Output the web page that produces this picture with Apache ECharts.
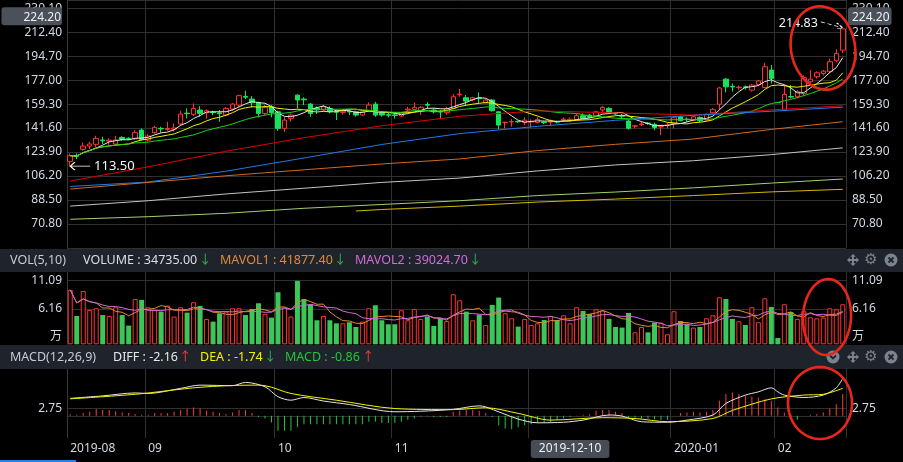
<!DOCTYPE html>
<html><head><meta charset="utf-8">
<script src="https://cdn.jsdelivr.net/npm/echarts@6/dist/echarts.min.js"></script>
<style>html,body{margin:0;padding:0;background:#000;}#c{width:903px;height:462px;}</style>
</head><body><div id="c"></div>
<script>
// ---- trading days (categories) ----
const aug19 = [15,16,19,20,21,22,23,26,27,28,29,30];
const sep19 = [2,3,4,5,6,9,10,11,12,16,17,18,19,20,23,24,25,26,27,30];
const oct19 = [8,9,10,11,14,15,16,17,18,21,22,23,24,25,28,29,30,31];
const nov19 = [1,4,5,6,7,8,11,12,13,14,15,18,19,20,21,22,25,26,27,28,29];
const dec19 = [2,3,4,5,6,9,10,11,12,13,16,17,18,19,20,23,24,25,26,27,30,31];
const jan20 = [2,3,6,7,8,9,10,13,14,15,16,17,20,21,22,23];
const feb20 = [3,4,5,6,7,10,11,12,13,14,17];

// ---- price data ----
const opens = [117.0,121.4,125.9,128.3,129.6,132.8,132.0,129.8,134.7,134.0,
133.7,140.1,132.7,138.2,141.4,140.6,140.8,144.6,152.6,151.7,
154.9,152.9,153.4,152.8,151.2,155.6,158.6,165.0,163.0,160.5,
152.4,157.3,153.6,141.4,148.7,165.9,163.0,159.3,156.2,154.9,
156.1,153.8,153.2,154.0,153.6,151.2,154.4,159.3,153.2,151.5,
151.3,150.5,155.0,155.4,154.4,158.9,154.9,153.8,152.9,156.1,
166.2,164.0,162.3,163.7,160.3,162.3,153.6,145.5,146.1,146.5,
145.8,146.1,145.8,146.0,146.0,146.5,147.7,147.5,147.5,150.7,
151.2,150.7,154.9,156.1,152.4,150.7,146.8,143.0,144.2,145.3,
144.3,142.4,143.4,145.0,149.9,148.2,147.5,149.5,147.5,152.9,
159.2,177.7,172.4,171.4,172.0,169.6,173.8,171.6,184.4,160.4,
154.9,164.9,164.7,167.0,175.8,179.5,181.9,183.2,191.3,199.1];
const closes = [121.2,120.8,128.3,129.8,134.0,132.2,132.7,132.8,133.2,133.6,
138.2,133.2,135.7,142.1,141.0,141.3,141.6,151.9,152.2,156.1,
152.4,154.4,153.0,152.2,156.1,159.3,165.5,164.4,160.3,152.4,
156.9,153.0,141.4,147.5,151.2,162.3,162.5,152.4,155.0,157.3,
153.6,153.3,154.0,153.5,151.2,153.6,158.6,151.2,151.2,151.0,
150.9,152.9,155.6,156.9,156.9,158.5,153.6,153.4,156.1,164.7,
166.7,161.5,164.0,163.3,162.3,154.4,143.8,145.9,146.5,146.2,
147.5,146.5,148.0,145.6,146.5,146.0,148.2,148.1,150.7,148.7,
149.5,153.6,156.9,152.9,152.0,150.3,141.4,143.3,144.6,145.0,
141.9,142.8,143.8,149.2,147.0,147.8,149.9,147.0,151.7,155.4,
171.2,172.0,171.9,171.8,171.6,173.3,176.3,186.8,178.2,160.4,
166.4,164.5,168.4,178.8,177.7,182.4,183.6,190.5,196.7,214.83];
const lows = [113.5,118.7,124.9,125.9,127.4,129.8,129.3,128.8,132.3,132.8,
132.8,132.3,131.8,137.3,138.2,139.6,139.1,143.5,148.7,150.5,
149.9,148.7,151.2,146.3,150.4,154.4,157.2,163.0,156.9,149.5,
151.0,149.5,139.6,138.7,146.3,156.1,158.6,149.9,152.0,153.8,
152.4,147.5,151.5,151.2,150.0,150.4,153.8,149.9,150.0,149.5,
148.7,149.9,153.6,154.9,151.2,156.1,152.4,148.7,151.5,155.4,
164.7,158.6,161.5,159.8,159.8,153.8,140.9,141.4,142.6,145.4,
143.8,141.8,145.0,144.5,143.3,145.0,146.3,146.3,147.0,148.0,
148.8,150.0,153.6,152.4,151.0,148.7,140.5,141.4,143.0,144.0,
140.1,136.4,141.4,141.4,146.5,146.3,147.0,146.0,147.0,152.0,
155.0,167.9,168.5,170.0,170.0,168.5,172.5,171.0,174.5,160.4,
154.9,163.5,163.5,165.5,174.5,178.0,180.5,182.0,190.0,197.0];
const highs = [122.8,122.9,131.0,131.5,135.9,135.2,134.0,135.9,135.5,134.8,
140.1,141.3,137.2,143.2,142.6,146.3,145.0,154.4,156.1,159.8,
157.8,155.4,154.4,154.9,157.2,160.1,166.2,169.1,165.2,161.0,
158.6,158.5,154.4,149.9,152.4,166.5,164.2,160.1,157.5,158.5,
157.5,155.4,155.5,155.4,154.4,154.2,160.5,160.9,154.2,152.9,
152.9,153.5,157.3,160.5,157.8,160.7,156.1,154.9,157.3,166.7,
170.4,166.0,164.7,167.9,163.2,163.0,154.0,146.3,148.2,147.0,
149.5,148.0,149.5,146.5,148.0,147.0,149.5,149.5,152.0,152.4,
152.0,154.4,157.8,157.0,153.0,151.9,147.5,143.8,146.3,146.0,
145.5,143.8,145.5,149.9,150.7,149.5,150.7,150.2,152.4,156.3,
172.0,178.5,174.5,173.0,173.0,174.0,177.0,189.8,188.1,160.4,
173.3,173.3,169.5,180.5,184.4,183.5,184.5,193.0,199.6,214.83];

// volume in 万
const volumes = [9.48,4.94,9.3,6.0,6.28,5.1,4.94,6.45,5.1,3.26,
7.9,7.73,6.45,6.0,5.7,6.74,4.83,6.45,5.52,7.33,
6.69,4.42,3.95,5.4,5.7,6.28,6.28,5.1,6.16,7.15,
5.3,4.65,9.07,6.45,4.83,11.05,7.85,6.98,4.19,4.94,
4.19,3.66,3.66,3.84,3.02,3.95,6.28,6.8,4.19,3.49,
3.49,5.93,4.19,6.16,4.42,4.83,3.2,4.53,4.07,8.72,
7.67,5.7,4.19,5.17,3.37,6.86,8.14,5.41,4.53,3.08,
4.42,3.37,3.66,4.24,4.94,4.24,5.06,3.66,6.45,5.81,
5.29,6.1,5.87,4.42,3.02,2.91,5.47,2.09,3.02,2.09,
3.78,3.78,1.74,5.76,4.07,3.49,2.91,3.02,4.53,5.06,
8.2,7.9,4.42,4.01,3.37,6.45,3.84,8.02,6.51,1.1,
6.98,5.64,4.42,5.81,4.71,4.53,4.65,6.28,6.1,6.98];

// MACD histogram
const macdHist = [0.6,0.3,1.0,1.5,2.5,2.2,2.2,1.7,1.2,1.0,
0.7,0.4,0.4,1.0,1.0,1.0,1.5,2.2,2.7,3.1,
2.7,1.9,1.5,1.0,0.7,1.2,2.2,2.2,1.0,-0.4,
-1.0,-2.5,-5.6,-5.6,-5.6,-4.3,-3.1,-3.1,-3.1,-3.1,
-3.1,-3.1,-3.1,-3.1,-3.1,-3.1,-2.2,-2.2,-2.7,-2.7,
-2.7,-2.2,-1.5,-1.0,-0.3,-0.2,-0.4,-0.4,-0.4,1.5,
1.9,2.2,2.2,1.9,1.0,-0.4,-3.5,-4.7,-5.0,-4.3,
-3.5,-3.1,-2.7,-2.7,-2.5,-1.5,-1.0,-0.4,0.1,0.4,
0.6,1.9,2.2,2.2,1.5,1.0,-0.4,-0.6,-1.0,-1.0,
-1.2,-1.5,-1.5,0.1,1.0,1.2,1.5,1.2,1.5,2.2,
5.6,8.1,8.7,8.1,7.4,7.2,6.8,6.2,5.6,3.1,
1.2,0.6,-1.5,0.1,0.4,0.7,1.2,2.7,4.3,8.1];
// DIFF / DEA read at these day numbers (1-based)
const diffIdx = [1,6,11,13,18,21,26,28,31,33,35,37,40,44,51,55,60,64,65,70,73,77,80,84,86,89,93,96,100,102,105,107,109,110,111,114,117,119,120];
const diffVal = [6.5,7.4,8.5,8.3,10.2,11.4,11.2,12.4,10.8,7.1,5.8,6.8,5.5,4.2,1.5,1.7,2.4,3.7,3.3,-1.2,-2.6,-2.4,-1.6,0.3,-0.1,-2.2,-2.4,-1.6,0.3,4.6,7.7,8.9,10.4,8.9,7.7,6.8,7.7,10.4,13.9];
const deaIdx = [1,11,21,29,31,35,42,51,60,65,70,75,83,88,93,100,103,109,114,117,120];
const deaVal = [6.3,8.0,10.6,11.4,11.2,8.3,5.8,2.7,2.3,3.0,0.9,-1.6,-0.7,-1.0,-2.2,-1.0,2.0,6.3,7.7,8.0,10.2];

// long moving averages read at these day numbers
const longIdx = [1,13,25,37,49,61,73,85,97,109,120];
const maRed = [102.5,113,124.5,134.5,143.3,150.3,154.3,152.8,151.2,155,158];
const maBlue = [98.5,101.8,109.8,119.5,129.5,137.5,142.9,147.3,151,154,157];
const maOrange = [96.6,101.5,106.4,110.8,115.1,118.8,125,129.6,133.5,140.6,146.3];
const maGray = [84,88,93,97.2,101.5,104.7,110,114.4,117.5,122,127];
const maLGreen = [74.3,76.2,78.7,82.4,85.2,88,91.8,94.4,97.5,101,104];
const goldIdx = [45,49,61,73,85,97,109,120];
const maGold = [80.4,81.5,84,87,89.2,91.8,94.5,96.4];

// axis tick labels
const priceStep = 17.7;
const volLabels = [6.16, 11.09];
const macdLabel = 2.75;
const pointerPrice = 224.2;
const pointerDate = '2019-12-10';

// ---- build ----
const dates = [];
[['2019-08',aug19],['2019-09',sep19],['2019-10',oct19],['2019-11',nov19],['2019-12',dec19],['2020-01',jan20],['2020-02',feb20]]
  .forEach(([m, ds]) => ds.forEach(d => dates.push(m + '-' + String(d).padStart(2,'0'))));
const isMonthStart = i => i === 0 || dates[i].slice(0,7) !== dates[i-1].slice(0,7);

const UP = '#ff3232', DOWN = '#17e35a', VDOWN = '#3cc658';
const candle = dates.map((_, i) => [opens[i], closes[i], lows[i], highs[i]]);
const isUp = i => closes[i] > opens[i] ? true : closes[i] < opens[i] ? false : (i > 0 && closes[i] > closes[i-1]);

function ma(arr, n) {
  return arr.map((_, i) => { let s = 0, c = 0; for (let k = Math.max(0, i-n+1); k <= i; k++) { s += arr[k]; c++; } return +(s/c).toFixed(3); });
}
function sparse(idx, vals) { const out = dates.map(() => null); idx.forEach((d, k) => { out[d-1] = vals[k]; }); return out; }

const FONT = '"Noto Sans", "Noto Sans CJK SC", sans-serif';
const LBL = '#d3d9e3';
const GRIDC = '#303030';
const T = 'rgba(0,0,0,0)';

const volSplit = Array(12).fill(T); volSplit[5] = GRIDC; volSplit[9] = GRIDC;
const macdSplit = Array(11).fill(T); macdSplit[4] = GRIDC;

function xAx(gi, showLabel) {
  return {
    type: 'category', gridIndex: gi, data: dates, boundaryGap: true,
    axisLine: { show: gi === 2, lineStyle: { color: GRIDC } },
    axisTick: { show: false },
    axisLabel: showLabel ? {
      show: true, interval: (i) => isMonthStart(i), align: 'left', margin: 5,
      color: LBL, fontSize: 12, fontFamily: FONT,
      formatter: (v, i) => { const d = dates[i] || v; return (i === 0 || d.slice(5,7) === '01') ? d.slice(0,7) : d.slice(5,7); }
    } : { show: false },
    splitLine: { show: true, interval: (i) => i > 0 && isMonthStart(i), lineStyle: { color: GRIDC, width: 1 } },
    axisPointer: gi === 2 ? {
      show: true, type: 'line', value: pointerDate, status: 'show', triggerTooltip: false,
      lineStyle: { opacity: 0 },
      label: { show: true, backgroundColor: '#474c56', color: '#eef1f5', fontSize: 12, fontFamily: FONT, padding: [3, 8, 3, 8], margin: 2, formatter: p => p.value }
    } : { show: false }
  };
}
const priceFmt = v => { const k = v / priceStep; return Math.abs(k - Math.round(k)) < 0.01 ? v.toFixed(2) : ''; };
function priceAx(pos) {
  return {
    type: 'value', gridIndex: 0, position: pos, min: 53.1, max: 236.1, interval: priceStep,
    axisLine: { show: pos === 'left', lineStyle: { color: '#3a3a3a' } }, axisTick: { show: false },
    splitLine: { show: pos === 'left', lineStyle: { color: GRIDC } },
    axisLabel: { color: LBL, fontSize: 12, fontFamily: FONT, margin: pos === 'left' ? 5 : 6, showMinLabel: false, formatter: priceFmt },
    axisPointer: {
      show: true, type: 'line', value: pointerPrice, status: 'show', triggerTooltip: false, snap: false,
      lineStyle: { opacity: 0 },
      label: { show: true, backgroundColor: '#4b515b', color: '#eef1f5', fontSize: 12, fontFamily: FONT,
        padding: pos === 'left' ? [4, 1, 2, 22] : [4, 2, 2, 4], margin: pos === 'left' ? 5 : 2,
        formatter: p => Number(p.value).toFixed(2) }
    }
  };
}
const volFmt = v => {
  if (v === 0) return '万\n ';
  for (const l of volLabels) if (Math.abs(v - l) < 0.01) return l.toFixed(2);
  return '';
};
function volAx(pos) {
  return {
    type: 'value', gridIndex: 1, position: pos, min: 0, max: 12.6, interval: 1.2325,
    axisLine: { show: pos === 'left', lineStyle: { color: '#3a3a3a' } }, axisTick: { show: false },
    splitLine: { show: pos === 'left', lineStyle: { color: volSplit } },
    axisLabel: { color: LBL, fontSize: 12, fontFamily: FONT, margin: pos === 'left' ? 5 : 6, showMinLabel: true, showMaxLabel: false, lineHeight: 16, formatter: volFmt }
  };
}
function macdAx(pos) {
  return {
    type: 'value', gridIndex: 2, position: pos, min: -8.25, max: 17.4, interval: 2.75,
    axisLine: { show: pos === 'left', lineStyle: { color: '#3a3a3a' } }, axisTick: { show: false },
    splitLine: { show: pos === 'left', lineStyle: { color: macdSplit } },
    axisLabel: { color: LBL, fontSize: 12, fontFamily: FONT, margin: pos === 'left' ? 5 : 6, formatter: v => Math.abs(v - macdLabel) < 0.01 ? macdLabel.toFixed(2) : '' }
  };
}
function line(name, data, color, xi, yi, extra) {
  return Object.assign({ type: 'line', name, data, xAxisIndex: xi, yAxisIndex: yi, symbol: 'none', silent: true,
    lineStyle: { color, width: 1 }, itemStyle: { color }, z: 3, animation: false }, extra || {});
}

const HF = '12.5px ' + FONT;
function txt(x, y, s, color, font) { return { type: 'text', x, y, z: 110, silent: true, style: { text: s, fill: color, font: font || HF, verticalAlign: 'middle' } }; }
const ICON = '#7b838f', HBG = '#1f232b';
const movePts = [[6,0],[8.8,2.8],[7,2.8],[7,5],[9.2,5],[9.2,3.2],[12,6],[9.2,8.8],[9.2,7],[7,7],[7,9.2],[8.8,9.2],[6,12],[3.2,9.2],[5,9.2],[5,7],[2.8,7],[2.8,8.8],[0,6],[2.8,3.2],[2.8,5],[5,5],[5,2.8],[3.2,2.8]];
function icons(cy, withExtra) {
  const g = [
    { type: 'polygon', x: 847, y: cy - 6, z: 110, silent: true, shape: { points: movePts }, style: { fill: ICON } },
    { type: 'text', x: 871, y: cy, z: 110, silent: true, style: { text: '⚙', fill: ICON, font: '15px "DejaVu Sans"', align: 'center', verticalAlign: 'middle' } },
    { type: 'circle', z: 110, silent: true, shape: { cx: 891, cy, r: 6.5 }, style: { fill: ICON } },
    { type: 'line', z: 111, silent: true, shape: { x1: 888.5, y1: cy - 2.5, x2: 893.5, y2: cy + 2.5 }, style: { stroke: HBG, lineWidth: 1.8 } },
    { type: 'line', z: 111, silent: true, shape: { x1: 888.5, y1: cy + 2.5, x2: 893.5, y2: cy - 2.5 }, style: { stroke: HBG, lineWidth: 1.8 } }
  ];
  if (withExtra) {
    g.push({ type: 'circle', z: 110, silent: true, shape: { cx: 833, cy, r: 6.5 }, style: { fill: ICON } });
    g.push({ type: 'polyline', z: 111, silent: true, shape: { points: [[830, cy - 1.5], [833, cy + 1.5], [836, cy - 1.5]] }, style: { stroke: HBG, lineWidth: 1.8, fill: null } });
  }
  return g;
}
// annotation ring drawn as a closed polygon outline
function ellipse(cx, cy, rx, ry, rot) {
  const pts = [];
  for (let k = 0; k < 72; k++) {
    const a = k / 72 * Math.PI * 2, ex = rx * Math.cos(a), ey = ry * Math.sin(a);
    pts.push([cx + ex * Math.cos(rot) - ey * Math.sin(rot), cy + ex * Math.sin(rot) + ey * Math.cos(rot)]);
  }
  return { type: 'polygon', z: 200, silent: true, shape: { points: pts }, style: { fill: null, stroke: '#e8261c', lineWidth: 2.6 } };
}

const option = {
  backgroundColor: '#000',
  animation: false,
  axisPointer: { triggerOn: 'none' },
  grid: [
    { left: 67, right: 57, top: 0, height: 248 },
    { left: 67, right: 57, top: 272, height: 72.3 },
    { left: 67, right: 57, top: 369, height: 69 }
  ],
  xAxis: [xAx(0, false), xAx(1, false), xAx(2, true)],
  yAxis: [priceAx('left'), priceAx('right'), volAx('left'), volAx('right'), macdAx('left'), macdAx('right')],
  series: [
    {
      type: 'candlestick', name: 'K', data: candle, xAxisIndex: 0, yAxisIndex: 0, barWidth: 5, z: 2, silent: true,
      itemStyle: { color: '#000', color0: DOWN, borderColor: UP, borderColor0: DOWN, borderWidth: 1 },
      markPoint: {
        symbolKeepAspect: false, animation: false, silent: true,
        data: [
          { type: 'min', valueDim: 'lowest', name: 'low',
            symbol: 'path://M22,4 L0,4 M5,0 L0,4 L5,8', symbolSize: [20, 8], symbolOffset: [10, 0],
            itemStyle: { color: T, borderColor: '#fff', borderWidth: 1 },
            label: { show: true, position: 'right', distance: 3, color: '#f4f6fa', fontSize: 13, fontFamily: FONT, formatter: p => Number(p.value).toFixed(2) } },
          { type: 'max', valueDim: 'highest', name: 'high',
            symbol: 'path://M0,1 L22,7 M16,2 L22,7 L15.5,8', symbolSize: [22, 7], symbolOffset: [-11, -3.5],
            itemStyle: { color: T, borderColor: '#fff', borderWidth: 1, borderType: [3, 2] },
            label: { show: true, position: 'left', distance: 2, offset: [0, -2], color: '#f4f6fa', fontSize: 12.5, fontFamily: FONT, formatter: p => Number(p.value).toFixed(2) } }
        ]
      }
    },
    line('MA5', ma(closes, 5), '#e8e8e8', 0, 0),
    line('MA10', ma(closes, 10), '#f2f200', 0, 0),
    line('MA20', ma(closes, 20), '#19d219', 0, 0),
    line('MAred', sparse(longIdx, maRed), '#e00000', 0, 0, { connectNulls: true }),
    line('MAblue', sparse(longIdx, maBlue), '#1f7be8', 0, 0, { connectNulls: true }),
    line('MAorange', sparse(longIdx, maOrange), '#d2691c', 0, 0, { connectNulls: true }),
    line('MAgray', sparse(longIdx, maGray), '#c4c4c4', 0, 0, { connectNulls: true }),
    line('MAlgreen', sparse(longIdx, maLGreen), '#a3d067', 0, 0, { connectNulls: true }),
    line('MAgold', sparse(goldIdx, maGold), '#d4b800', 0, 0, { connectNulls: true }),
    {
      type: 'bar', name: 'VOL', xAxisIndex: 1, yAxisIndex: 2, barWidth: 5, silent: true, z: 2,
      data: volumes.map((v, i) => ({ value: v, itemStyle: isUp(i) ? { color: '#000', borderColor: UP, borderWidth: 1 } : { color: VDOWN, borderColor: VDOWN, borderWidth: 0 } }))
    },
    line('MAVOL1', ma(volumes, 5), '#e48a2f', 1, 2),
    line('MAVOL2', ma(volumes, 10), '#d36ad8', 1, 2),
    {
      type: 'bar', name: 'MACD', xAxisIndex: 2, yAxisIndex: 4, barWidth: 1, silent: true, z: 2,
      data: macdHist.map(v => ({ value: v, itemStyle: { color: v >= 0 ? '#ff3b3b' : '#20c83c' } }))
    },
    line('DIFF', sparse(diffIdx, diffVal), '#e6e6e6', 2, 4, { connectNulls: true, smooth: 0.3 }),
    line('DEA', sparse(deaIdx, deaVal), '#f5f500', 2, 4, { connectNulls: true, smooth: 0.3 })
  ],
  graphic: [
    { type: 'rect', z: 100, silent: true, shape: { x: 0, y: 249, width: 903, height: 23 }, style: { fill: HBG } },
    { type: 'rect', z: 100, silent: true, shape: { x: 0, y: 345, width: 903, height: 24 }, style: { fill: HBG } },
    txt(10, 260.5, 'VOL(5,10)', '#c3ccd8'),
    txt(83, 260.5, 'VOLUME : 34735.00', '#d8dde6'),
    txt(199, 260.5, '↓', '#2fb84a'),
    txt(220, 260.5, 'MAVOL1 : 41877.40', '#e0893a'),
    txt(334, 260.5, '↓', '#2fb84a'),
    txt(355, 260.5, 'MAVOL2 : 39024.70', '#d36ad8'),
    txt(469, 260.5, '↓', '#2fb84a'),
    txt(10, 357, 'MACD(12,26,9)', '#c3ccd8'),
    txt(113, 357, 'DIFF : -2.16', '#e8e8e8'),
    txt(179, 357, '↑', '#ff3b30'),
    txt(200, 357, 'DEA : -1.74', '#f2f200'),
    txt(264, 357, '↓', '#2fb84a'),
    txt(285, 357, 'MACD : -0.86', '#25c43a'),
    txt(362, 357, '↑', '#ff3b30'),
    ...icons(260, false),
    ...icons(357, true),
    { type: 'rect', z: 100, silent: true, shape: { x: 0, y: 460, width: 76, height: 2 }, style: { fill: '#2f7de1' } },
    ellipse(823, 48, 32, 42, -0.19),
    ellipse(827, 317, 24, 38, 0.05),
    ellipse(820, 403, 32, 36, 0)
  ]
};
const chart = echarts.init(document.getElementById('c'), null, { renderer: 'canvas' });
chart.setOption(option);
</script>
</body></html>
